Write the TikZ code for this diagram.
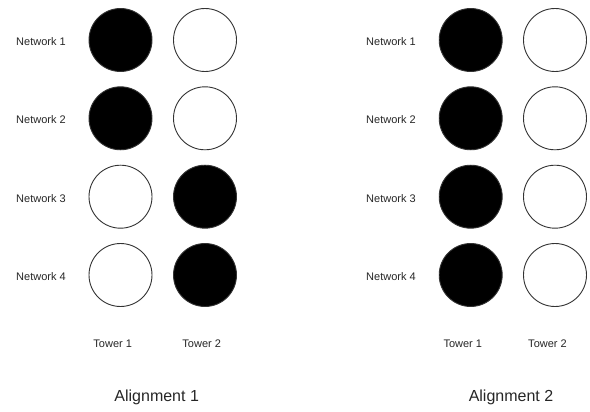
\documentclass[tikz,border=0pt]{standalone}
\usepackage{fontspec}
\setmainfont{Liberation Sans}
\begin{document}
\begin{tikzpicture}[x=1pt,y=-1pt,
  ball/.style={circle,draw=black!80,line width=0.9pt,minimum size=63pt,inner sep=0pt},
  on/.style={ball,fill=black},
  off/.style={ball,fill=white},
  lbl/.style={anchor=base,inner sep=0pt,text=black!85,font=\fontsize{11}{13}\selectfont},
  ttl/.style={anchor=base,inner sep=0pt,text=black!85,font=\fontsize{16}{19}\selectfont}]
\useasboundingbox (0,0) rectangle (590,412);
% left panel
\node[lbl] (ln1) at (41,45.7) {Network 1};
\node[lbl] (ln2) at (41,124) {Network 2};
\node[lbl] (ln3) at (41,202.3) {Network 3};
\node[lbl] (ln4) at (41,280.6) {Network 4};
\node[on]  (la1) at (120.5,40) {};
\node[on]  (la2) at (120.5,118.3) {};
\node[off] (la3) at (120.5,196.7) {};
\node[off] (la4) at (120.5,275) {};
\node[off] (lb1) at (205,40) {};
\node[off] (lb2) at (205,118.3) {};
\node[on]  (lb3) at (205,196.7) {};
\node[on]  (lb4) at (205,275) {};
\node[lbl] (lt1) at (112.7,347.5) {Tower 1};
\node[lbl] (lt2) at (201.7,347.5) {Tower 2};
\node[ttl] (lal) at (156.7,401.7) {Alignment 1};
% right panel
\node[lbl] (rn1) at (391,45.7) {Network 1};
\node[lbl] (rn2) at (391,124) {Network 2};
\node[lbl] (rn3) at (391,202.3) {Network 3};
\node[lbl] (rn4) at (391,280.6) {Network 4};
\node[on]  (ra1) at (470.7,40) {};
\node[on]  (ra2) at (470.7,118.3) {};
\node[on]  (ra3) at (470.7,196.7) {};
\node[on]  (ra4) at (470.7,275) {};
\node[off] (rb1) at (555,40) {};
\node[off] (rb2) at (555,118.3) {};
\node[off] (rb3) at (555,196.7) {};
\node[off] (rb4) at (555,275) {};
\node[lbl] (rt1) at (462.8,347.5) {Tower 1};
\node[lbl] (rt2) at (547.5,347.5) {Tower 2};
\node[ttl] (ral) at (511,401.7) {Alignment 2};
\end{tikzpicture}
\end{document}
